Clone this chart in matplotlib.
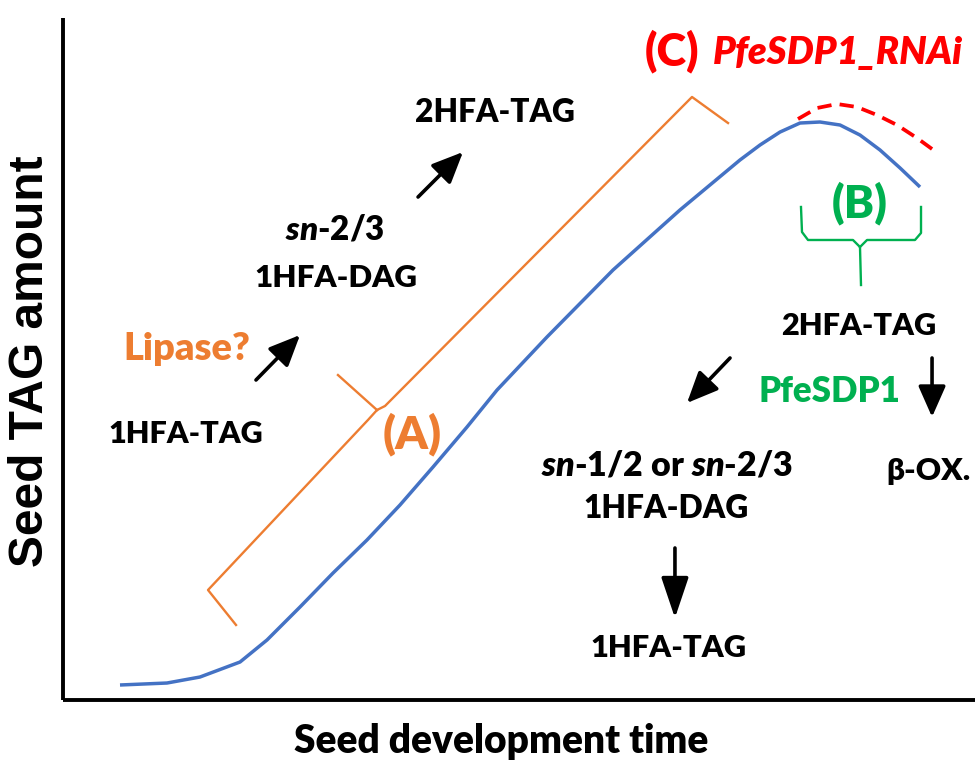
import matplotlib
matplotlib.use("Agg")
import matplotlib.pyplot as plt
from matplotlib.patches import FancyArrowPatch

plt.rcParams['font.family'] = ['Lato', 'DejaVu Sans']
plt.rcParams['mathtext.fontset'] = 'custom'
plt.rcParams['mathtext.rm'] = 'Lato:heavy'
plt.rcParams['mathtext.bf'] = 'Lato:heavy'
plt.rcParams['mathtext.it'] = 'Lato:italic:heavy'

# ---- data (time 0-100, TAG amount 0-100) ----
wt_time = [6.25, 11.40, 15.02, 19.41, 22.37, 25.99, 29.61, 33.33, 36.95, 40.57,
           44.30, 47.59, 53.07, 60.31, 67.65, 74.23, 76.43, 78.62, 80.81, 83.00,
           85.20, 87.39, 89.58, 91.78, 93.97]
wt_tag = [2.20, 2.49, 3.37, 5.57, 8.80, 13.64, 18.62, 23.46, 28.59, 34.16,
          40.03, 45.45, 53.23, 63.05, 71.85, 79.18, 81.38, 83.28, 84.60, 84.75,
          84.31, 82.84, 80.65, 78.01, 75.22]
rnai_time = [80.59, 82.68, 84.87, 87.06, 89.25, 91.45, 93.64, 95.29]
rnai_tag = [85.19, 86.80, 87.39, 86.95, 85.78, 84.31, 82.40, 80.79]

# brace (A)
braceA_low_x = [18.97, 15.90, 33.44, 34.43]
braceA_low_y = [11.00, 16.13, 41.06, 42.52]
braceA_up_x = [34.43, 35.31, 68.97, 72.92]
braceA_up_y = [42.52, 43.11, 88.42, 84.60]
braceA_tip_x = [34.43, 30.15]
braceA_tip_y = [42.52, 47.65]
# brace (B)
braceB_left_x = [80.92, 81.03, 81.69, 86.62, 87.39, 87.50]
braceB_left_y = [72.29, 68.62, 67.45, 67.45, 66.42, 60.85]
braceB_right_x = [87.39, 88.16, 93.42, 94.08, 94.08]
braceB_right_y = [66.42, 67.45, 67.45, 68.48, 72.29]

# arrows: (tail, tip, head length)
arrows = [((38.93, 73.75), (43.86, 80.35), 0.95),
          ((21.16, 46.92), (25.99, 53.52), 0.95),
          ((73.14, 50.15), (68.42, 43.55), 0.95),
          ((95.29, 50.15), (95.29, 41.50), 0.95),
          ((67.10, 22.29), (67.10, 12.02), 1.25)]

BLACK = '#000000'
ORANGE = '#ED7D31'
GREEN = '#00B050'
RED = '#FF0000'
BLUE = '#4472C4'

# labels: text, x, y, target width (px), colour, extra
labels = [
    ("2HFA-TAG", 47.37, 84.75, 160, BLACK, {}),
    (r"$\mathit{sn}$-2/3", 29.82, 67.45, 100, BLACK, {}),
    ("1HFA-DAG", 29.93, 60.56, 162, BLACK, {}),
    ("Lipase?", 13.60, 49.85, 127, ORANGE, {}),
    ("1HFA-TAG", 13.49, 37.68, 155, BLACK, {}),
    ("(A)", 38.27, 36.95, 59, ORANGE, {}),
    ("(B)", 87.39, 70.82, 56, GREEN, {}),
    ("2HFA-TAG", 87.28, 53.52, 155, BLACK, {}),
    ("PfeSDP1", 83.99, 43.70, 142, GREEN, {}),
    ("β-OX.", 94.85, 32.26, 84, BLACK, {}),
    (r"$\mathit{sn}$-1/2 or $\mathit{sn}$-2/3", 66.23, 32.99, 252, BLACK, {}),
    ("1HFA-DAG", 66.12, 26.69, 165, BLACK, {}),
    ("1HFA-TAG", 66.45, 6.30, 156, BLACK, {}),
    ("(C)", 66.78, 93.11, 55, RED, {}),
    ("PfeSDP1_RNAi", 84.98, 93.26, 250, RED, {'style': 'italic'}),
    ("Seed development time", 48.03, -7.77, 415, BLACK, {}),
]

fig = plt.figure(figsize=(9.75, 7.69), dpi=100)
ax = fig.add_axes([63/975, 69/769, 912/975, 682/769])
ax.set_xlim(0, 100)
ax.set_ylim(0, 100)
for s in ('top', 'right'):
    ax.spines[s].set_visible(False)
for s in ('left', 'bottom'):
    ax.spines[s].set_linewidth(2.8)
    ax.spines[s].set_capstyle('butt')
ax.set_xticks([])
ax.set_yticks([])

ax.plot(wt_time, wt_tag, color=BLUE, lw=2.5, solid_capstyle='butt',
        solid_joinstyle='round', clip_on=False)
ax.plot(rnai_time, rnai_tag, color=RED, lw=2.7, linestyle=(0, (3.8, 2.2)),
        clip_on=False)

for xs, ys in [(braceA_low_x, braceA_low_y), (braceA_up_x, braceA_up_y),
               (braceA_tip_x, braceA_tip_y)]:
    ax.plot(xs, ys, color=ORANGE, lw=1.7, clip_on=False, solid_joinstyle='round')
for xs, ys in [(braceB_left_x, braceB_left_y), (braceB_right_x, braceB_right_y)]:
    ax.plot(xs, ys, color=GREEN, lw=1.7, clip_on=False, solid_joinstyle='round')

for tail, tip, hl in arrows:
    a = FancyArrowPatch(tail, tip,
                        arrowstyle='-|>,head_length=%.2f,head_width=0.42' % hl,
                        mutation_scale=20, color=BLACK, lw=2.6,
                        shrinkA=0, shrinkB=0, transform=ax.transData,
                        clip_on=False)
    ax.add_patch(a)

fig.canvas.draw()
renderer = fig.canvas.get_renderer()


def fit(t, w):
    for _ in range(2):
        bb = t.get_window_extent(renderer)
        t.set_fontsize(t.get_fontsize() * w / bb.width)


for txt, x, y, w, c, kw in labels:
    t = ax.text(x, y, txt, ha='center', va='baseline', color=c, fontsize=20,
                fontweight='heavy', clip_on=False, **kw)
    fit(t, w)

yl = ax.text(-2.19, 49.71, "Seed TAG amount", rotation=90, rotation_mode='anchor',
             ha='center', va='baseline', fontsize=30, fontweight='bold',
             family=['Liberation Sans', 'DejaVu Sans'], color=BLACK, clip_on=False)
bb = yl.get_window_extent(renderer)
yl.set_fontsize(yl.get_fontsize() * 412 / bb.height)

fig.savefig("out.png", dpi=100)
